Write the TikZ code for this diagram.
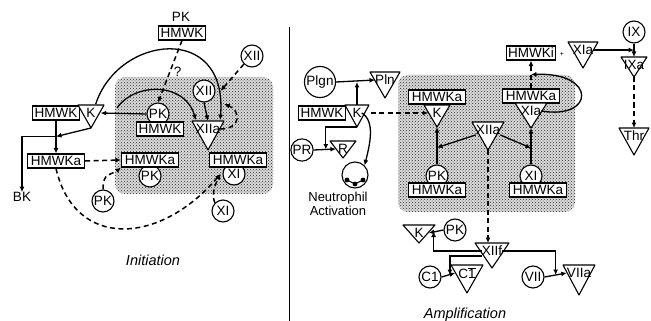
\documentclass[tikz,border=0pt]{standalone}
\usepackage{fontspec}
\setmainfont{Liberation Sans}
\usetikzlibrary{arrows.meta,calc,patterns}
\tikzset{
  lbl/.style={font=\fontsize{13.5}{14}\selectfont,inner sep=0pt},
  molbox/.style={lbl,draw,fill=white,line width=1.1pt,inner xsep=2pt,inner ysep=1.5pt,minimum height=14pt},
  molboxa/.style={molbox,minimum width=57pt},
  molcirc/.style={lbl,circle,draw,fill=white,line width=1.1pt,minimum size=22pt,inner sep=0.5pt},
  tribox/.style={draw,fill=white,line width=1.1pt,line join=round},
  trilbl/.style={lbl},
  arr/.style={-{Latex[length=5.5pt,width=5pt]},line width=1.3pt},
  dasharr/.style={arr,line width=1.5pt,dash pattern=on 5pt off 3.5pt},
  stipple/.style={preaction={fill=black!14},pattern=crosshatch dots,pattern color=black!85,rounded corners=10pt},
  phase/.style={font=\fontsize{14.5}{16}\selectfont\itshape,inner sep=0pt}
}
% inverted triangle: name, label centre, half width, depth of tip, text
\newcommand{\trinode}[5]{%
  \coordinate (#1-top) at ($(#2)+(0,-8)$);
  \coordinate (#1-tip) at ($(#2)+(0,#4)$);
  \filldraw[tribox] ($(#2)+(-#3,-8)$) -- ($(#2)+(#3,-8)$) -- (#1-tip) -- cycle;
  \node[trilbl] (#1) at (#2) {#5};}

\begin{document}
\begin{tikzpicture}[x=1pt,y=-1pt]
  \useasboundingbox (0,0) rectangle (651,321);
  \fill[stipple] (115,77) rectangle (273,194);
  \fill[stipple] (398,75) rectangle (575,212);
  \draw[line width=1pt] (289,27) -- (289,321);

  % initiation
  \node[lbl] (pktop) at (181,17) {PK};
  \node[molbox] (hmwktop) at (182,33) {HMWK};
  \node[molcirc] (xiiout) at (252,56) {XII};
  \node[molcirc] (xiiin) at (204,91) {XII};
  \trinode{xiial}{208,129}{16}{21}{XIIa}
  \node[molcirc] (pkl) at (158,114) {PK};
  \node[molbox] (hmwkl) at (160,129) {HMWK};
  \node[molbox] (hmwkk) at (56,113) {HMWK};
  \trinode{kl}{91,113}{13}{15}{K}
  \node[molboxa] (hmwkaa) at (56,161) {HMWKa};
  \node[lbl] (bk) at (22,197) {BK};
  \node[molcirc] (pkb) at (150,176) {PK};
  \node[molboxa] (hmwkab) at (150,160) {HMWKa};
  \node[molcirc] (xib) at (234,174) {XI};
  \node[molboxa] (hmwkac) at (238,160) {HMWKa};
  \node[molcirc] (pkd) at (103,201) {PK};
  \node[molcirc] (xid) at (223,211) {XI};
  \node[phase] (init) at (153,260) {Initiation};
  \coordinate (arcstart) at (117,108);
  \coordinate (bkjoin) at ($(hmwkk.south)+(0,16)$);

  \draw[arr] ([yshift=4pt]kl.north east) .. controls (118,35) and (228,22) .. ([yshift=4pt]xiial.north east);
  \draw[dasharr] (hmwktop.south) -- node[lbl,right=3pt] (qmark) {?} (pkl.north);
  \draw[dasharr] (xiiout.south west) -- ([xshift=5pt]xiiin.east);
  \draw[arr] (xiiin.south) -- (xiial-top);
  \draw[arr] (arcstart) .. controls (135,82) and (185,82) .. ([yshift=4pt]xiial.north west);
  \draw[dasharr] (xiial.east) .. controls +(22,0) and +(16,6) .. ([xshift=4pt,yshift=20pt]xiial.north east);
  \draw[arr] (pkl.west) -- ([xshift=5pt]kl.east);
  \draw[arr] (hmwkk.south) -- (hmwkk.south |- hmwkaa.north);
  \draw[arr] (bkjoin) -| (bk.north);
  \draw[arr] (kl-tip) -- (bkjoin);
  \draw[dasharr] (hmwkaa.east) -- (hmwkab.west);
  \draw[dasharr] (pkd.north) .. controls +(0,-18) and +(-10,8) .. (hmwkab.south west);
  \draw[dasharr] (hmwkaa.south) .. controls (75,250) and (160,245) .. ([xshift=-2pt]xib.west);
  \draw[dasharr] (xid.north west) .. controls +(-4,-10) and +(-4,8) .. ([xshift=-2pt]xib.west);

  % amplification
  \node[molcirc,minimum size=26pt] (plgn) at (320,82) {Plgn};
  \trinode{pln}{385,80}{15}{18}{Pln}
  \node[molbox] (hmwkr) at (322,113) {HMWK};
  \trinode{kr}{357,113}{12}{14}{K}
  \node[molcirc] (pr) at (302,150) {PR};
  \trinode{rr}{343,149}{13}{9}{R}
  \node[molcirc,minimum size=26pt] (neut) at (355,175) {};
  \node[lbl,align=center,font=\fontsize{13}{14}\selectfont] (neutlbl) at (338,204) {Neutrophil\\Activation};
  \node[molboxa] (hmwkak) at (437,97) {HMWKa};
  \trinode{kk}{437,113}{13}{14}{K}
  \node[molboxa] (hmwkax) at (531,96) {HMWKa};
  \trinode{xiat}{531,111}{16}{17}{XIa}
  \trinode{xiiar}{488,130}{16}{20}{XIIa}
  \node[molcirc] (pkr) at (437,176) {PK};
  \node[molboxa] (hmwkap) at (437,190) {HMWKa};
  \node[molcirc] (xir) at (531,176) {XI};
  \node[molboxa] (hmwkaq) at (538,190) {HMWKa};
  \node[molbox] (hmwki) at (531,53) {HMWKi};
  \node[lbl,font=\fontsize{7}{7}\selectfont] (plus) at (562,54) {+};
  \trinode{xiatop}{583,50}{15}{18}{XIa}
  \node[molcirc] (ix) at (634,32) {IX};
  \trinode{ixa}{634,65}{13}{12}{IXa}
  \trinode{thr}{634,136}{15}{19}{Thr}
  \trinode{xiif}{492,251}{17}{17}{XIIf}
  \trinode{ks}{419,233}{16}{10}{K}
  \node[molcirc] (pks) at (455,230) {PK};
  \node[molcirc] (ci) at (430,277) {C1};
  \trinode{ct}{467,273}{16}{20}{C$\overline{\mbox{1}}$}
  \node[molcirc] (vii) at (533,277) {VII};
  \trinode{viia}{579,273}{16}{22}{VIIa}
  \node[phase] (ampl) at (465,315) {Amplification};

  \draw[arr] (plgn.east) -- (pln.west);
  \draw[arr] (kr-top) -- (kr-top |- plgn.east);
  \draw[arr] (kr-tip) -| ($(pr.east)!0.5!(rr.west)$);
  \draw[arr] (pr.east) -- ([xshift=-2pt]rr.west);
  \draw[arr] (kr.east) .. controls +(14,8) and +(5,-20) .. (neut.north east);
  \draw[line width=1pt] ($(neut)+(-8,5)$) -- ($(neut)+(0,9)$) -- ($(neut)+(8,5)$);
  \fill ($(neut)+(-8,5)$) circle (2.4pt);
  \fill ($(neut)+(0,9)$) circle (2.4pt);
  \fill ($(neut)+(8,5)$) circle (2.4pt);
  \draw[dasharr] ([xshift=9pt]kr.east) -- ([xshift=-4pt]kk.west);
  \draw[arr] (pkr.north) -- (kk-tip);
  \draw[arr] (xiiar.south west) -- ($(pkr.north)!0.45!(kk-tip)$);
  \draw[arr] (xiiar.south east) -- ($(xir.north)!0.45!(xiat-tip)$);
  \draw[arr] (xir.north) -- (xiat-tip);
  \draw[dasharr] (xiiar-tip) -- (xiiar-tip |- xiif-top);
  \draw[dasharr] (hmwkax.north) -- (hmwki.south);
  \draw[arr] (xiat.east) .. controls (595,120) and (597,72) .. ($(hmwkax.north)!0.5!(hmwki.south)$);
  \draw[arr] (xiatop.east) -- (xiatop.east -| ix.south);
  \draw[arr] (ix.south) -- (ixa-top);
  \draw[dasharr] (ixa-tip) -- (thr-top);
  \draw[arr] (pks.west) -- ([xshift=5pt]ks.east);
  \draw[arr] (xiif.west) -| ($(ks.east)!0.5!(pks.west)$);
  \draw[arr] (xiif.south west) -| ($(ci.east)!0.5!(ct.west)$);
  \draw[arr] (ci.east) -- ([xshift=-3pt]ct.west);
  \draw[arr] (xiif.east) -| ($(vii.east)!0.5!(viia.west)$);
  \draw[arr] (vii.east) -- (viia.west);
\end{tikzpicture}
\end{document}
